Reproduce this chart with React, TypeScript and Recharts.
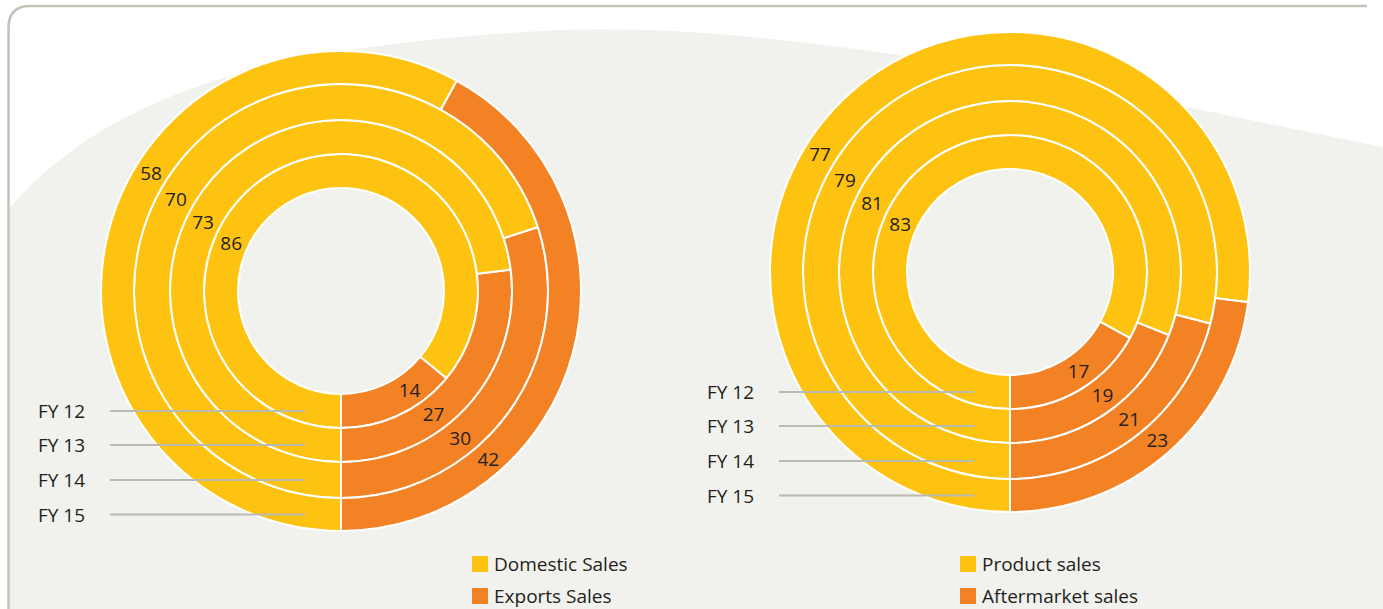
import { PieChart, Pie, Cell } from 'recharts';

const years = ['FY 12', 'FY 13', 'FY 14', 'FY 15'];
const domesticSales = [86, 73, 70, 58];
const exportsSales = [14, 27, 30, 42];
const productSales = [83, 81, 79, 77];
const aftermarketSales = [17, 19, 21, 23];
const leftLegend = ['Domestic Sales', 'Exports Sales'];
const rightLegend = ['Product sales', 'Aftermarket sales'];

const YELLOW = '#FEC310';
const ORANGE = '#F38225';
const TEXT = '#231f20';
const FONT = '"Open Sans", "Noto Sans", sans-serif';

// ring radii, inner to outer (FY12 -> FY15)
const rings = [
  [103, 137],
  [137, 171],
  [171, 207],
  [207, 240],
];

const charts = [
  { cx: 341, cy: 291, first: exportsSales, second: domesticSales, legend: leftLegend, legendX: 472 },
  { cx: 1010, cy: 272, first: aftermarketSales, second: productSales, legend: rightLegend, legendX: 960 },
];

const RAD = Math.PI / 180;

const renderLabel = (props: any) => {
  const { cx, cy, innerRadius, outerRadius, index, value } = props;
  const r = (innerRadius + outerRadius) / 2;
  // yellow labels sit up-left, orange ones down-right
  const angle = index === 1 ? 148 + (226 - r) * 0.077 : -48.8 - (223 - r) * 0.062;
  const x = cx + r * Math.cos(angle * RAD);
  const y = cy - r * Math.sin(angle * RAD);
  return (
    <text x={x} y={y} textAnchor="middle" dominantBaseline="central" fill={TEXT} fontSize={19} fontFamily={FONT}>
      {value}
    </text>
  );
};

export default function App() {
  return (
    <div style={{ position: 'absolute', left: 0, top: 0, width: 1383, height: 609, background: '#fff', overflow: 'hidden' }}>
      <svg width={1383} height={609} style={{ position: 'absolute', left: 0, top: 0 }}>
        <path
          d="M 9 208 C 110 95, 260 45, 560 30 C 800 22, 1100 90, 1383 147 L 1383 609 L 9 609 Z"
          fill="#f1f1ed"
        />
        <path d="M 8.5 620 L 8.5 28 Q 8.5 6 30 6 L 1367 6" fill="none" stroke="#c2c2b6" strokeWidth={2.5} />
      </svg>
      <div style={{ position: 'absolute', left: 0, top: 0 }}>
        <PieChart width={1383} height={609} margin={{ top: 0, left: 0, right: 0, bottom: 0 }}>
          {charts.map((c, ci) =>
            years.map((y, i) => (
              <Pie
                key={`${ci}-${y}`}
                data={[
                  { name: c.legend[1], value: c.first[i] },
                  { name: c.legend[0], value: c.second[i] },
                ]}
                dataKey="value"
                cx={c.cx}
                cy={c.cy}
                innerRadius={rings[i][0]}
                outerRadius={rings[i][1]}
                startAngle={-90}
                endAngle={270}
                stroke="#fff"
                strokeWidth={2}
                label={renderLabel}
                labelLine={false}
                isAnimationActive={false}
              >
                <Cell fill={ORANGE} />
                <Cell fill={YELLOW} />
              </Pie>
            ))
          )}
        </PieChart>
      </div>
      <svg width={1383} height={609} style={{ position: 'absolute', left: 0, top: 0, pointerEvents: 'none' }}>
        {charts.map((c, ci) =>
          years.map((y, i) => {
            const ly = c.cy + (rings[i][0] + rings[i][1]) / 2;
            return (
              <g key={`${ci}-${y}`}>
                <line x1={c.cx - 231} x2={c.cx - 36} y1={ly} y2={ly} stroke="#b9bab0" strokeWidth={2} />
                <text x={c.cx - 303} y={ly} dominantBaseline="central" fill={TEXT} fontSize={19} fontFamily={FONT}>
                  {y}
                </text>
              </g>
            );
          })
        )}
      </svg>
      {charts.map((c, ci) => (
        <div key={ci} style={{ position: 'absolute', left: c.legendX, top: 548, fontFamily: FONT, fontSize: 19, color: TEXT, lineHeight: '26px' }}>
          {c.legend.map((name, k) => (
            <div key={name} style={{ display: 'flex', alignItems: 'center', height: 32 }}>
              <span style={{ width: 16, height: 16, background: k === 0 ? YELLOW : ORANGE, marginRight: 6 }} />
              <span>{name}</span>
            </div>
          ))}
        </div>
      ))}
    </div>
  );
}
